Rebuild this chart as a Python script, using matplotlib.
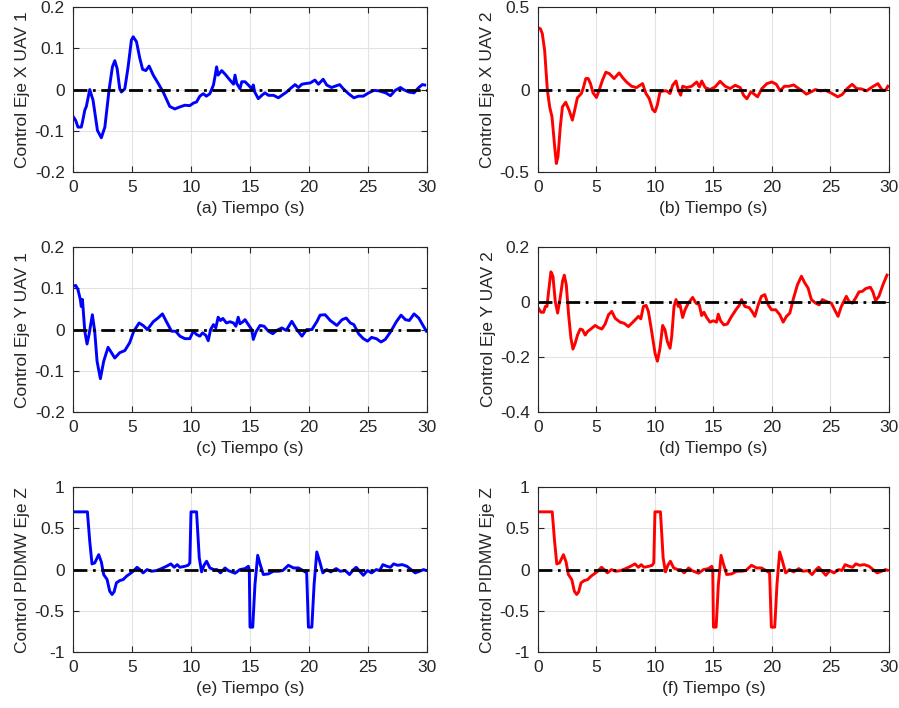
import matplotlib.pyplot as plt

# (a) control eje X UAV 1
t_x1 = [0, 0.23, 0.42, 0.7, 0.8, 1.0, 1.13, 1.42, 1.7, 2.07, 2.4, 2.7, 3.06, 3.34, 3.54, 3.74,
        3.96, 4.1, 4.39, 4.67, 4.95, 5.1, 5.38, 5.66, 5.9, 6.17, 6.45, 6.8, 7.2, 7.64, 8.2, 8.63,
        9.06, 9.48, 9.9, 10.19, 10.47, 10.75, 11.04, 11.3, 11.6, 11.9, 12.03, 12.17, 12.3, 12.6,
        12.9, 13.3, 13.6, 13.73, 13.87, 14.15, 14.3, 14.58, 14.86, 15.14, 15.28, 15.4, 15.7, 16.0,
        16.27, 16.56, 17.0, 17.4, 17.7, 18.1, 18.4, 18.82, 19.1, 19.4, 19.8, 20.1, 20.5, 20.8,
        21.2, 21.5, 21.9, 22.2, 22.6, 22.9, 23.35, 23.8, 24.2, 24.6, 25.05, 25.5, 25.9, 26.5,
        26.9, 27.3, 27.75, 28.0, 28.45, 28.9, 29.3, 29.6, 29.8]
u_x1 = [-0.065, -0.075, -0.091, -0.091, -0.079, -0.05, -0.041, 0.0, -0.026, -0.099, -0.117,
        -0.091, 0.0, 0.055, 0.07, 0.051, 0.002, -0.006, 0.002, 0.055, 0.12, 0.128, 0.116, 0.076,
        0.049, 0.046, 0.057, 0.035, 0.016, -0.006, -0.041, -0.047, -0.042, -0.038, -0.039,
        -0.033, -0.03, -0.016, -0.01, -0.016, -0.01, 0.011, 0.031, 0.055, 0.035, 0.046, 0.037,
        0.023, 0.013, 0.035, 0.015, 0.002, 0.019, 0.019, 0.011, 0.002, 0.011, -0.006, -0.022,
        -0.014, -0.008, -0.014, -0.014, -0.02, -0.014, -0.006, 0.002, 0.012, 0.005, 0.013,
        0.015, 0.016, 0.023, 0.013, 0.025, 0.011, 0.005, 0.008, 0.012, 0.002, -0.01, -0.02,
        -0.016, -0.016, -0.008, -0.002, -0.003, -0.008, -0.015, -0.002, 0.005, 0.0, -0.006,
        -0.008, 0.005, 0.012, 0.011]

# (b) control eje X UAV 2
t_x2 = [0, 0.2, 0.37, 0.57, 0.8, 1.0, 1.2, 1.43, 1.57, 1.71, 1.91, 2.09, 2.37, 2.66, 2.94, 3.14,
        3.37, 3.71, 3.86, 4.09, 4.29, 4.49, 4.71, 5.0, 5.23, 5.51, 5.8, 6.09, 6.51, 6.94, 7.23,
        7.57, 8.0, 8.43, 8.94, 9.23, 9.51, 9.8, 10.0, 10.2, 10.43, 10.71, 11.0, 11.29, 11.51,
        11.8, 12.0, 12.2, 12.37, 12.71, 13.14, 13.57, 13.8, 14.0, 14.29, 14.71, 15.14, 15.57,
        16.0, 16.43, 16.86, 17.29, 17.57, 17.86, 18.2, 18.49, 18.77, 19.14, 19.57, 20.0, 20.37,
        20.71, 21.06, 21.43, 21.86, 22.29, 22.71, 22.94, 23.29, 23.71, 24.14, 24.57, 25.14,
        25.63, 26.0, 26.43, 26.86, 27.23, 27.63, 28.09, 28.49, 29.06, 29.43, 29.71, 29.91]
u_x2 = [0.375, 0.369, 0.339, 0.238, 0.0, -0.105, -0.165, -0.347, -0.448, -0.407, -0.226,
        -0.105, -0.077, -0.125, -0.185, -0.125, -0.05, -0.024, 0.006, 0.067, 0.067, 0.036,
        -0.02, -0.048, -0.004, 0.056, 0.105, 0.097, 0.067, 0.101, 0.073, 0.046, 0.02, 0.012,
        0.036, -0.024, -0.054, -0.121, -0.135, -0.095, -0.014, -0.008, -0.008, -0.024, 0.026,
        0.052, -0.004, -0.034, 0.02, 0.012, 0.02, 0.046, 0.016, 0.052, 0.012, 0.0, 0.016, 0.05,
        0.02, 0.006, 0.026, 0.012, -0.034, -0.056, -0.014, -0.028, -0.044, 0.006, 0.036, 0.046,
        0.032, -0.008, 0.02, 0.02, 0.028, 0.006, -0.014, -0.028, -0.016, 0.0, -0.008, -0.004,
        -0.024, -0.044, -0.03, 0.006, 0.032, 0.006, 0.004, -0.008, 0.012, 0.036, -0.004,
        -0.004, 0.02]

# (c) control eje Y UAV 1
t_y1 = [0, 0.23, 0.42, 0.62, 0.7, 0.8, 1.0, 1.19, 1.36, 1.64, 1.84, 2.04, 2.32, 2.6, 2.97,
        3.26, 3.54, 3.96, 4.39, 4.8, 5.15, 5.6, 5.94, 6.3, 6.8, 7.2, 7.58, 7.92, 8.35, 8.7,
        9.06, 9.48, 9.9, 10.19, 10.47, 10.75, 10.98, 11.26, 11.46, 11.66, 11.9, 12.1, 12.3,
        12.5, 12.7, 13.0, 13.3, 13.6, 13.8, 14.0, 14.15, 14.4, 14.58, 14.86, 15.14, 15.28,
        15.5, 15.85, 16.2, 16.56, 16.93, 17.26, 17.7, 18.07, 18.54, 18.97, 19.4, 19.8, 20.24,
        20.66, 20.94, 21.37, 21.8, 22.36, 22.8, 23.15, 23.5, 23.8, 24.2, 24.6, 24.96, 25.3,
        25.7, 26.1, 26.46, 26.9, 27.4, 27.8, 28.17, 28.5, 28.9, 29.3, 29.66, 29.95]
u_y1 = [0.105, 0.107, 0.097, 0.073, 0.056, 0.073, -0.004, -0.035, -0.012, 0.036, -0.004,
        -0.077, -0.119, -0.077, -0.043, -0.056, -0.069, -0.056, -0.051, -0.032, -0.004, 0.016,
        0.01, 0.0, 0.019, 0.028, 0.038, 0.019, -0.004, -0.004, -0.016, -0.022, -0.022, -0.004,
        -0.012, -0.016, -0.008, -0.014, -0.027, 0.0, 0.012, 0.004, 0.03, 0.022, 0.027, 0.016,
        0.019, 0.016, 0.008, 0.03, 0.014, 0.019, 0.024, 0.012, 0.0, -0.024, -0.006, 0.01, 0.008,
        -0.004, -0.01, -0.002, 0.004, -0.002, 0.02, 0.0, -0.016, 0.0, 0.0, 0.019, 0.035, 0.036,
        0.022, 0.01, 0.024, 0.028, 0.016, 0.012, -0.01, -0.022, -0.028, -0.019, -0.022, -0.03,
        -0.024, -0.006, 0.019, 0.035, 0.024, 0.022, 0.038, 0.028, 0.01, -0.004]

# (d) control eje Y UAV 2
t_y2 = [0.06, 0.26, 0.48, 0.63, 0.77, 0.91, 1.11, 1.28, 1.48, 1.68, 1.9, 2.1, 2.25, 2.42, 2.62,
        2.82, 2.99, 3.18, 3.38, 3.61, 3.81, 4.04, 4.24, 4.52, 4.89, 5.17, 5.46, 5.74, 6.03,
        6.31, 6.6, 7.02, 7.36, 7.73, 8.02, 8.3, 8.59, 8.79, 9.01, 9.24, 9.44, 9.72, 10.01,
        10.21, 10.43, 10.66, 10.86, 11.06, 11.29, 11.43, 11.63, 11.8, 12.0, 12.14, 12.37, 12.57,
        12.85, 13.22, 13.51, 13.79, 13.99, 14.19, 14.42, 14.7, 14.99, 15.27, 15.41, 15.61,
        15.89, 16.18, 16.55, 16.92, 17.2, 17.4, 17.69, 18.05, 18.34, 18.54, 18.83, 19.1, 19.39,
        19.68, 19.96, 20.33, 20.67, 20.96, 21.24, 21.53, 21.81, 22.18, 22.52, 22.8, 23.09,
        23.37, 23.74, 24.03, 24.31, 24.65, 25.08, 25.36, 25.65, 25.93, 26.36, 26.59, 26.87,
        27.16, 27.44, 27.73, 28.01, 28.41, 28.63, 28.86, 29.14, 29.49, 29.83]
u_y2 = [-0.024, -0.037, -0.037, -0.016, -0.016, 0.039, 0.11, 0.094, 0.002, -0.04, 0.015, 0.076,
        0.098, 0.063, -0.046, -0.132, -0.171, -0.15, -0.12, -0.098, -0.101, -0.12, -0.107,
        -0.098, -0.085, -0.093, -0.098, -0.08, -0.046, -0.034, -0.059, -0.073, -0.077, -0.089,
        -0.077, -0.065, -0.052, -0.061, -0.016, -0.012, -0.034, -0.107, -0.187, -0.215, -0.168,
        -0.085, -0.101, -0.144, -0.168, -0.126, -0.016, 0.009, -0.016, -0.01, -0.056, -0.028,
        -0.004, 0.017, -0.004, -0.01, -0.049, -0.037, -0.056, -0.073, -0.068, -0.073, -0.044,
        -0.068, -0.083, -0.08, -0.052, -0.028, -0.012, 0.009, -0.016, -0.02, -0.037, -0.052,
        -0.01, 0.021, 0.027, -0.01, -0.028, -0.028, -0.046, -0.073, -0.052, -0.04, 0.009, 0.063,
        0.094, 0.07, 0.051, 0.009, -0.004, -0.01, 0.009, 0.002, -0.004, -0.028, -0.052, -0.016,
        0.021, 0.002, -0.004, 0.015, 0.037, 0.039, 0.049, 0.054, 0.037, 0.005, 0.021, 0.063,
        0.098]

# (e) y (f) control PIDMW eje Z
t_z = [0, 1.22, 1.42, 1.61, 1.84, 2.18, 2.4, 2.6, 2.89, 3.11, 3.31, 3.48, 3.68, 3.96, 4.25,
       4.53, 4.81, 5.1, 5.43, 5.66, 5.94, 6.28, 6.65, 7.08, 7.5, 7.92, 8.29, 8.58, 8.83, 9.06,
       9.48, 9.76, 9.9, 10.0, 10.47, 10.7, 10.9, 11.1, 11.32, 11.6, 11.94, 12.2, 12.5, 12.88,
       13.16, 13.44, 13.73, 14.15, 14.58, 14.86, 14.94, 15.0, 15.23, 15.42, 15.65, 15.85,
       16.13, 16.56, 16.98, 17.4, 17.77, 18.25, 18.68, 19.1, 19.5, 19.8, 19.95, 20.24, 20.43,
       20.66, 20.9, 21.17, 21.5, 21.85, 22.3, 22.64, 23.07, 23.43, 23.77, 24.0, 24.3, 24.6,
       24.96, 25.3, 25.7, 25.98, 26.26, 26.6, 26.9, 27.17, 27.5, 27.9, 28.3, 28.64, 29.0,
       29.37, 29.7, 29.87]
u_z1 = [0.7, 0.7, 0.343, 0.069, 0.081, 0.181, 0.093, -0.06, -0.121, -0.262, -0.302, -0.27,
        -0.161, -0.133, -0.121, -0.081, -0.052, -0.02, 0.028, 0.0, -0.04, 0.0, -0.02, -0.012,
        0.012, 0.04, 0.069, 0.028, 0.06, 0.028, 0.04, 0.052, 0.081, 0.7, 0.7, 0.141, -0.028,
        0.052, 0.101, 0.02, 0.0, 0.0, -0.04, 0.02, -0.012, -0.028, -0.044, 0.0, 0.012, 0.04,
        0.0, -0.698, -0.698, -0.181, 0.173, 0.069, -0.06, -0.052, -0.02, -0.02, -0.012, 0.052,
        0.02, 0.02, -0.012, -0.04, -0.698, -0.698, -0.181, 0.214, 0.101, -0.04, 0.0, -0.028,
        0.012, -0.02, -0.012, -0.06, 0.0, 0.028, -0.02, -0.069, -0.012, -0.04, 0.0, -0.012,
        0.06, 0.04, 0.028, 0.069, 0.052, 0.06, 0.04, 0.0, -0.04, -0.02, 0.0, -0.008]
u_z2 = list(u_z1)

series = [(t_x1, u_x1, 'b', 'Control Eje X UAV 1', '(a) Tiempo (s)', (-0.2, 0.2), 0.1),
          (t_x2, u_x2, 'r', 'Control Eje X UAV 2', '(b) Tiempo (s)', (-0.5, 0.5), 0.5),
          (t_y1, u_y1, 'b', 'Control Eje Y UAV 1', '(c) Tiempo (s)', (-0.2, 0.2), 0.1),
          (t_y2, u_y2, 'r', 'Control Eje Y UAV 2', '(d) Tiempo (s)', (-0.4, 0.2), 0.2),
          (t_z, u_z1, 'b', 'Control PIDMW Eje Z', '(e) Tiempo (s)', (-1, 1), 0.5),
          (t_z, u_z2, 'r', 'Control PIDMW Eje Z', '(f) Tiempo (s)', (-1, 1), 0.5)]

plt.rcParams['font.family'] = ['Liberation Sans', 'DejaVu Sans']
plt.rcParams['font.size'] = 12.5
fig = plt.figure(figsize=(8.99, 7.08), dpi=100)

lefts = [0.0812, 0.5984]
widths = [0.3938, 0.3904]
bottoms = [0.757, 0.418, 0.079]
gray = '#262626'

for i, (t, u, c, ylab, xlab, ylim, step) in enumerate(series):
    row, col = i // 2, i % 2
    ax = fig.add_axes([lefts[col], bottoms[row], widths[col], 0.233])
    ax.plot(t, u, color=c, linewidth=2.1)
    ax.axhline(0, color='k', linewidth=2, dashes=[5, 2, 1, 2])
    ax.set_xlim(0, 30)
    ax.set_ylim(*ylim)
    ax.set_xticks(range(0, 31, 5))
    n = int(round((ylim[1] - ylim[0]) / step))
    yt = [round(ylim[0] + k * step, 2) for k in range(n + 1)]
    ax.set_yticks(yt)
    ax.set_yticklabels(['%g' % v for v in yt])
    ax.grid(True, color='#e3e3e3', linewidth=0.8)
    ax.set_axisbelow(True)
    ax.tick_params(direction='in', top=True, right=True, colors=gray, length=4, width=0.8, pad=6)
    for s in ax.spines.values():
        s.set_color(gray)
        s.set_linewidth(0.8)
    ax.set_xlabel(xlab, color=gray, labelpad=4)
    ax.set_ylabel(ylab, color=gray, labelpad=3)

plt.savefig('out.png', dpi=100)
